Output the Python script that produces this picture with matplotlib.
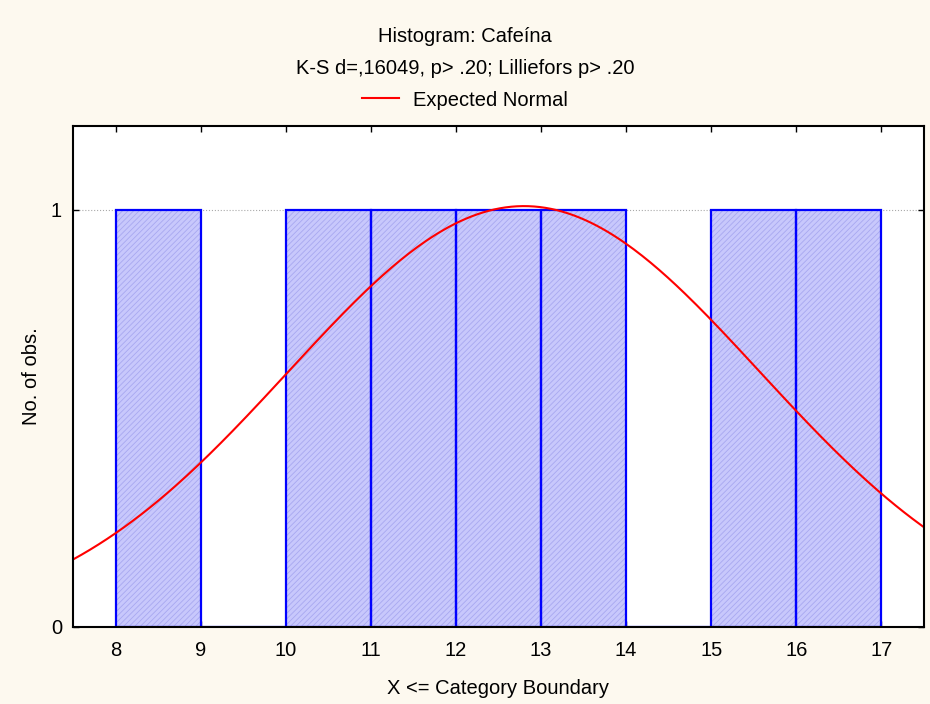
import matplotlib.pyplot as plt
import numpy as np

plt.rcParams['font.family'] = ['Liberation Sans', 'DejaVu Sans']
plt.rcParams['hatch.linewidth'] = 0.6

# Histogram data: category boundaries and counts
bin_left = [8, 9, 10, 11, 12, 13, 14, 15, 16]
counts = [1, 0, 1, 1, 1, 1, 0, 1, 1]
n_obs = 7
mean = 12.8
sd = 2.77

fs = 14.5

fig = plt.figure(figsize=(9.3, 7.04), dpi=100, facecolor='#fdf9ef')
ax = fig.add_axes([0.0785, 0.1094, 0.915, 0.7116])
ax.set_facecolor('white')

# fill with fine hatching, then blue outline on top
ax.bar(bin_left, counts, width=1, align='edge', color='#c8c8fc',
       edgecolor='#a8a8f0', hatch='//////', linewidth=0, zorder=2)
ax.bar(bin_left, counts, width=1, align='edge', fill=False,
       edgecolor='#0000ff', linewidth=1.6, zorder=3)

# expected normal curve
x = np.linspace(7.5, 17.5, 300)
y = n_obs * 1.0 / (sd * np.sqrt(2 * np.pi)) * np.exp(-(x - mean) ** 2 / (2 * sd ** 2))
ax.plot(x, y, color='red', linewidth=1.5, zorder=4, label='Expected Normal')

ax.set_xlim(7.5, 17.5)
ax.set_ylim(0, 1.2)
ax.set_xticks(range(8, 18))
ax.set_yticks([0, 1])
ax.yaxis.grid(True, linestyle=':', color='#aaaaaa', linewidth=0.8, zorder=1)
ax.tick_params(direction='in', top=True, right=True, length=4, width=1,
               labelsize=fs, pad=8)
ax.tick_params(axis='x', pad=10)
for s in ax.spines.values():
    s.set_linewidth(1.5)
    s.set_zorder(5)

ax.set_xlabel('X <= Category Boundary', fontsize=fs, labelpad=14)
ax.set_ylabel('No. of obs.', fontsize=fs, labelpad=7)

fig.text(0.5, 1 - 37 / 704, 'Histogram: Cafeína', ha='center', va='center', fontsize=fs)
fig.text(0.5, 1 - 69 / 704, 'K-S d=,16049, p> .20; Lilliefors p> .20',
         ha='center', va='center', fontsize=fs)
fig.legend(loc='center', bbox_to_anchor=(0.5, 1 - 100 / 704), frameon=False,
           fontsize=fs, handlelength=1.8, handletextpad=0.7)

fig.savefig('out.png', dpi=100, facecolor=fig.get_facecolor())
